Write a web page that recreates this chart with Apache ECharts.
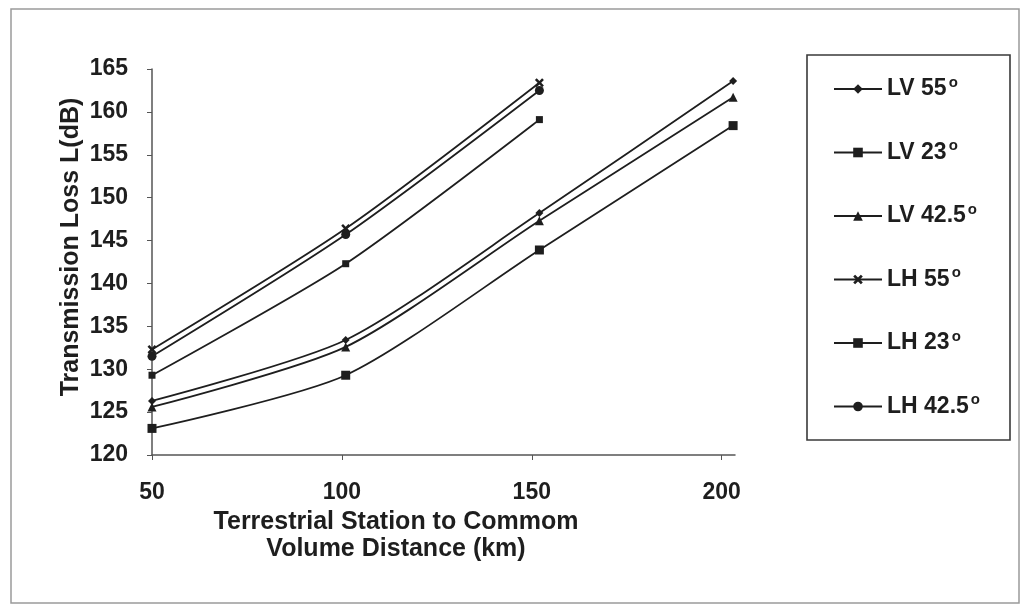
<!DOCTYPE html>
<html>
<head>
<meta charset="utf-8">
<script src="https://cdn.jsdelivr.net/npm/echarts@6/dist/echarts.min.js"></script>
<style>
  html, body { margin: 0; padding: 0; background: #ffffff; }
  #chart { width: 1027px; height: 613px; }
</style>
</head>
<body>
<div id="chart"></div>
<script>
// Distance from terrestrial station to common volume (km)
const distLV = [50, 101, 152, 203];
const distLH = [50, 101, 152];

// Transmission loss L (dB), vertical polarisation
const lv55  = [126.3, 133.4, 148.2, 163.6];
const lv23  = [123.1, 129.3, 143.9, 158.4];
const lv425 = [125.6, 132.6, 147.3, 161.7];

// Transmission loss L (dB), horizontal polarisation
const lh55  = [132.3, 146.4, 163.4];
const lh23  = [129.3, 142.3, 159.1];
const lh425 = [131.5, 145.7, 162.5];

const seriesNames = ['LV 55', 'LV 23', 'LV 42.5', 'LH 55', 'LH 23', 'LH 42.5'];
const yTicks = { min: 120, max: 165, step: 5 };
const xTicks = { min: 50, max: 203.5, step: 50 };

const FONT = '"Liberation Sans", Arial, sans-serif';
const INK = '#1e1e1e';
const CROSS = 'path://M0,2L2,0L5,3L8,0L10,2L7,5L10,8L8,10L5,7L2,10L0,8L3,5Z';

function pairs(xs, ys) { return xs.map((x, i) => [x, ys[i]]); }

function makeSeries(name, xs, ys, symbol, size) {
  return {
    name: name,
    type: 'line',
    smooth: 0.25,
    data: pairs(xs, ys),
    symbol: symbol,
    symbolSize: size,
    showSymbol: true,
    lineStyle: { color: INK, width: 1.8 },
    itemStyle: { color: INK },
    emphasis: { disabled: true },
    z: 3
  };
}

const chart = echarts.init(document.getElementById('chart'), null, { renderer: 'canvas' });

chart.setOption({
  backgroundColor: '#ffffff',
  animation: false,
  grid: { left: 152, right: 292, top: 69, bottom: 158 },
  xAxis: {
    type: 'value',
    min: xTicks.min,
    max: xTicks.max,
    interval: xTicks.step,
    splitLine: { show: false },
    axisLine: { lineStyle: { color: '#555', width: 1.5 } },
    axisTick: { show: true, length: 5, lineStyle: { color: '#555' } },
    axisLabel: {
      margin: 26, color: INK, fontFamily: FONT, fontWeight: 'bold', fontSize: 23,
      showMaxLabel: false
    },
    name: 'Terrestrial Station to Commom\nVolume Distance (km)',
    nameLocation: 'middle',
    nameGap: 54,
    nameMoveOverlap: false,
    nameTextStyle: {
      color: INK, fontFamily: FONT, fontWeight: 'bold', fontSize: 25,
      lineHeight: 27, verticalAlign: 'top', padding: [0, 95, 0, 0]
    }
  },
  yAxis: {
    type: 'value',
    min: yTicks.min,
    max: yTicks.max,
    interval: yTicks.step,
    splitLine: { show: false },
    axisLine: { show: true, lineStyle: { color: '#555', width: 1.5 } },
    axisTick: { show: true, length: 5, lineStyle: { color: '#555' } },
    axisLabel: { margin: 24, color: INK, fontFamily: FONT, fontWeight: 'bold', fontSize: 23 },
    name: 'Transmission Loss L(dB)',
    nameLocation: 'middle',
    nameGap: 68,
    nameRotate: 90,
    nameMoveOverlap: false,
    nameTextStyle: {
      color: INK, fontFamily: FONT, fontWeight: 'bold', fontSize: 25,
      padding: [0, 0, 0, 30]
    }
  },
  legend: {
    orient: 'vertical',
    left: 833,
    top: 75,
    itemWidth: 48,
    itemHeight: 12,
    itemGap: 36.5,
    data: seriesNames,
    formatter: function (n) { return '{t|' + n + '}{s|o}'; },
    textStyle: {
      color: INK,
      rich: {
        t: { fontFamily: FONT, fontWeight: 'bold', fontSize: 23, lineHeight: 28, color: INK },
        s: { fontFamily: FONT, fontWeight: 'bold', fontSize: 15, lineHeight: 28, color: INK, verticalAlign: 'top', padding: [0, 0, 12, 2] }
      }
    },
    padding: [0, 0, 0, 0]
  },
  graphic: [
    {
      type: 'rect',
      shape: { x: 11, y: 9, width: 1008, height: 594 },
      style: { fill: null, stroke: '#9a9a9a', lineWidth: 1.5 },
      silent: true
    },
    {
      type: 'rect',
      shape: { x: 807, y: 55, width: 203, height: 385 },
      style: { fill: null, stroke: '#3a3a3a', lineWidth: 1.6 },
      silent: true
    }
  ],
  series: [
    makeSeries(seriesNames[0], distLV, lv55, 'diamond', 8),
    makeSeries(seriesNames[1], distLV, lv23, 'rect', 9),
    makeSeries(seriesNames[2], distLV, lv425, 'triangle', 9),
    makeSeries(seriesNames[3], distLH, lh55, CROSS, 9),
    makeSeries(seriesNames[4], distLH, lh23, 'rect', 7),
    makeSeries(seriesNames[5], distLH, lh425, 'circle', 9)
  ]
});
</script>
</body>
</html>
